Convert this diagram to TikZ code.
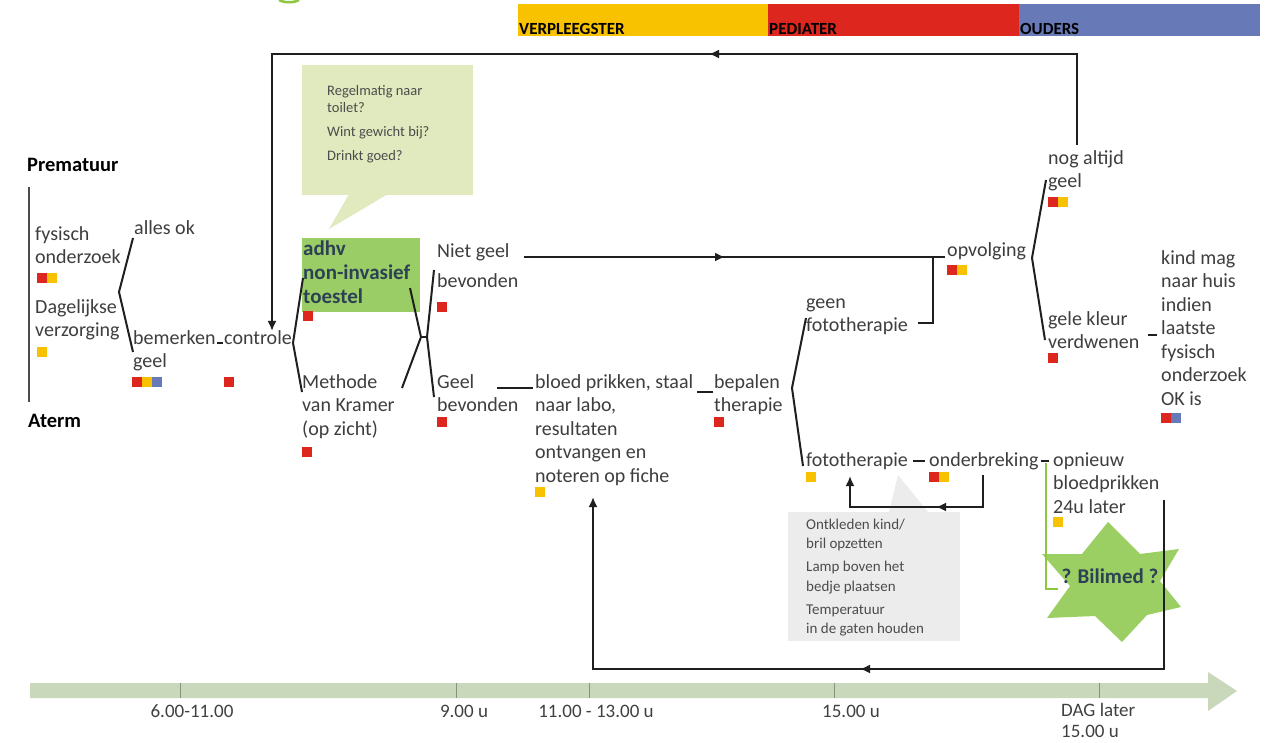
\documentclass[tikz,border=0pt]{standalone}
\usepackage{fontspec}
\setmainfont{Carlito}
\usetikzlibrary{arrows.meta}
\definecolor{cred}{RGB}{220,38,30}
\definecolor{cyel}{RGB}{248,194,0}
\definecolor{cblue}{RGB}{103,122,183}
\definecolor{txt}{RGB}{62,62,62}
\definecolor{slate}{RGB}{45,65,85}
\definecolor{boxgreen}{RGB}{155,205,102}
\definecolor{bubble}{RGB}{224,234,190}
\definecolor{graybox}{RGB}{236,236,236}
\definecolor{stargreen}{RGB}{155,207,100}
\definecolor{brgreen}{RGB}{141,198,63}
\definecolor{tlbar}{RGB}{201,216,186}
\definecolor{tltick}{RGB}{135,148,125}
\newcommand\Tm{\rule{0pt}{16pt}}
\newcommand\Ts{\rule{0pt}{12pt}}
\newcommand\sqrs[3]{\foreach \cc [count=\ii from 0] in {#3} {\fill[\cc] ({#1+10*\ii},#2) rectangle ++(10,10);}}
\tikzset{
  lbl/.style={anchor=north west, yshift=16pt, inner sep=0pt, align=left, text=txt,
    font=\fontsize{20}{23.5}\selectfont},
  boldlbl/.style={anchor=north west, yshift=16pt, inner sep=0pt, align=left, text=slate,
    font=\fontsize{21}{24}\selectfont\bfseries},
  small/.style={anchor=north west, yshift=12pt, inner sep=0pt, align=left, text=black!70},
  title/.style={anchor=base west, inner sep=0pt, text=black, font=\fontsize{20.5}{24}\selectfont\bfseries},
  barlbl/.style={anchor=base west, inner sep=0pt, text=black, font=\fontsize{17}{17}\selectfont\bfseries},
  tllbl/.style={anchor=base, inner sep=0pt, text=black!75, font=\fontsize{19}{21.5}\selectfont},
  conn/.style={line width=2pt, black!88},
  arr/.style={-{Latex[length=10pt,width=9pt]}},
}
\begin{document}
\begin{tikzpicture}[x=1pt,y=-1pt]
\useasboundingbox (0,0) rectangle (1277,743);
\fill[white] (0,0) rectangle (1277,743);

% top role bars
\fill[cyel] (518,4) rectangle (768,36);
\fill[cred] (768,4) rectangle (1019,36);
\fill[cblue] (1019,4) rectangle (1260,36);
\node[barlbl] (verpl) at (519,35) {VERPLEEGSTER};
\node[barlbl] (ped) at (769,35) {PEDIATER};
\node[barlbl] (oud) at (1020,35) {OUDERS};
\draw[brgreen, line width=2.5pt] (279,0) .. controls (284,3) and (294,3) .. (299,0);

% left axis
\node[title] (prem) at (27,172) {Prematuur};
\node[title] (aterm) at (28,427) {Aterm};
\coordinate (axT) at (29,187);
\coordinate (axB) at (29,402);
\draw[line width=2pt, black!70] (axT) -- (axB);

% speech bubble
\fill[bubble] (302,65) rectangle (473,195);
\fill[bubble] (349,194) -- (329,229) -- (388,194) -- cycle;
\node[small, font=\fontsize{14.5}{17}\selectfont] (bub) at (327,95)
  {\Ts Regelmatig naar\\toilet?\\[7pt]Wint gewicht bij?\\[7pt]Drinkt goed?};

% grey note
\fill[graybox] (788,512) rectangle (960,641);
\fill[graybox] (889,512) -- (898,475) -- (928,512) -- cycle;
\node[small, font=\fontsize{15}{19.5}\selectfont] (tips) at (806,529)
  {\Ts Ontkleden kind/\\bril opzetten\\[3.5pt]Lamp boven het\\bedje plaatsen\\[3.5pt]Temperatuur\\in de gaten houden};

% star
\fill[stargreen] (1108,522) -- (1140,554) -- (1179,549) -- (1160,581) -- (1181,607) -- (1147,615)
  -- (1122,642) -- (1095,616) -- (1047,618) -- (1070,586) -- (1042,554) -- (1082,554) -- cycle;
\node[font=\fontsize{21}{24}\selectfont\bfseries, text=slate, inner sep=0pt] (bili) at (1110,576) {? Bilimed ?};

% green box
\fill[boxgreen] (302,238) rectangle (420,312);
\node[boldlbl] (adhv) at (303,255) {\Tm adhv\\non-invasief\\toestel};

% labels
\node[lbl] (fys) at (35,240) {\Tm fysisch\\onderzoek};
\node[lbl] (dag) at (35,313) {\Tm Dagelijkse\\verzorging};
\node[lbl] (alles) at (134,234) {\Tm alles ok};
\node[lbl] (bem) at (133,344) {\Tm bemerken\\geel};
\node[lbl] (contr) at (224,344) {\Tm controle};
\node[lbl] (meth) at (302,388) {\Tm Methode\\van Kramer\\(op zicht)};
\node[lbl] (niet) at (437,257) {\Tm Niet geel\\[6.5pt]bevonden};
\node[lbl] (geel) at (437,388) {\Tm Geel\\bevonden};
\node[lbl] (bloed) at (535,388) {\Tm bloed prikken, staal\\naar labo,\\resultaten\\ontvangen en\\noteren op fiche};
\node[lbl] (bep) at (714,388) {\Tm bepalen\\therapie};
\node[lbl] (geen) at (806,308) {\Tm geen\\fototherapie};
\node[lbl] (foto) at (806,466) {\Tm fototherapie};
\node[lbl] (onder) at (929,466) {\Tm onderbreking};
\node[lbl] (opv) at (947,256) {\Tm opvolging};
\node[lbl] (nog) at (1048,164) {\Tm nog altijd\\geel};
\node[lbl] (gele) at (1048,325) {\Tm gele kleur\\verdwenen};
\node[lbl] (kind) at (1161,264) {\Tm kind mag\\naar huis\\indien\\laatste\\fysisch\\onderzoek\\OK is};
\node[lbl] (opn) at (1053,466) {\Tm opnieuw\\bloedprikken\\24u later};

% role squares
\sqrs{37}{273}{cred,cyel}
\sqrs{37}{347}{cyel}
\sqrs{132}{377}{cred,cyel,cblue}
\sqrs{224}{377}{cred}
\sqrs{303}{311}{cred}
\sqrs{302}{447}{cred}
\sqrs{437}{302}{cred}
\sqrs{437}{417}{cred}
\sqrs{535}{487}{cyel}
\sqrs{714}{417}{cred}
\sqrs{947}{265}{cred,cyel}
\sqrs{1048}{197}{cred,cyel}
\sqrs{1048}{353}{cred}
\sqrs{1161}{413}{cred,cblue}
\sqrs{806}{472}{cyel}
\sqrs{929}{472}{cred,cyel}
\sqrs{1053}{517}{cyel}

% brackets
\coordinate (b1t) at (133,238); \coordinate (b1v) at (119,292); \coordinate (b1b) at (133,352);
\draw[conn] (b1t) -- (b1v) -- (b1b);
\coordinate (b2t) at (303,278); \coordinate (b2v) at (293,343); \coordinate (b2b) at (302,392);
\draw[conn] (b2t) -- (b2v) -- (b2b);
\coordinate (b3lt) at (410,288); \coordinate (b3lv) at (421,337); \coordinate (b3lb) at (402,388);
\coordinate (b3rt) at (434,270); \coordinate (b3rv) at (427,337); \coordinate (b3rb) at (434,397);
\draw[conn] (b3lt) -- (b3lv) -- (b3lb);
\draw[conn] (b3lv) -- (b3rv);
\draw[conn] (b3rt) -- (b3rv) -- (b3rb);
\coordinate (b4t) at (806,318); \coordinate (b4v) at (792,388); \coordinate (b4b) at (803,466);
\draw[conn] (b4t) -- (b4v) -- (b4b);
\coordinate (b5t) at (1046,180); \coordinate (b5v) at (1032,258); \coordinate (b5b) at (1045,340);
\draw[conn] (b5t) -- (b5v) -- (b5b);

% short links
\coordinate (d1a) at (217,343); \coordinate (d1b) at (223,343);
\draw[conn] (d1a) -- (d1b);
\coordinate (g1) at (497,388); \coordinate (g2) at (533,388);
\draw[conn] (g1) -- (g2);
\coordinate (s1) at (697,392); \coordinate (s2) at (713,392);
\draw[conn] (s1) -- (s2);
\coordinate (f1) at (913,461); \coordinate (f2) at (925,461);
\draw[conn] (f1) -- (f2);
\coordinate (o1) at (1041,461); \coordinate (o2) at (1049,461);
\draw[conn] (o1) -- (o2);
\coordinate (k1) at (1148,335); \coordinate (k2) at (1157,335);
\draw[conn] (k1) -- (k2);

% niet geel -> opvolging
\coordinate (n1) at (524,257); \coordinate (nmid) at (725,257); \coordinate (n2) at (945,257);
\draw[conn] (n1) -- (n2);
\draw[conn, arr] (n1) -- (nmid);
\coordinate (gf1) at (918,323); \coordinate (gf2) at (933,323); \coordinate (gf3) at (933,257);
\draw[conn] (gf1) -- (gf2) -- (gf3);

% top loop
\coordinate (nogtop) at (1077,145); \coordinate (tr) at (1077,54); \coordinate (tmid) at (709,54);
\coordinate (tl) at (272,54); \coordinate (ctop) at (272,331);
\draw[conn, arr] (nogtop) -- (tr) -- (tl) -- (ctop);
\draw[conn, arr] (tr) -- (tmid);

% onderbreking loop
\coordinate (u1) at (983,475); \coordinate (u2) at (983,507); \coordinate (umid) at (936,507);
\coordinate (u3) at (850,507); \coordinate (u4) at (850,476);
\draw[conn, arr] (u1) -- (u2) -- (u3) -- (u4);
\draw[conn, arr] (u2) -- (umid);

% bottom loop
\coordinate (r1) at (1164,500); \coordinate (r2) at (1164,669); \coordinate (rmid) at (860,669);
\coordinate (r3) at (593,669); \coordinate (r4) at (593,497);
\draw[conn, arr] (r1) -- (r2) -- (r3) -- (r4);
\draw[conn, arr] (r2) -- (rmid);

% green bracket
\coordinate (gb1) at (1046,463); \coordinate (gb2) at (1046,589); \coordinate (gb3) at (1058,589);
\draw[brgreen, line width=2.5pt] (gb1) -- (gb2) -- (gb3);

% timeline
\fill[tlbar] (30,683) -- (1208,683) -- (1208,672) -- (1237,691) -- (1208,711) -- (1208,698) -- (30,698) -- cycle;
\foreach \tx in {180,456,589,834,1099} {\draw[tltick, line width=0.8pt] (\tx,683) -- (\tx,698);}
\node[tllbl] (t1) at (192,717) {6.00-11.00};
\node[tllbl] (t2) at (464,717) {9.00 u};
\node[tllbl] (t3) at (596,717) {11.00 - 13.00 u};
\node[tllbl] (t4) at (851,717) {15.00 u};
\node[tllbl, anchor=north west, yshift=16pt, align=left] (t5) at (1061,716) {\Tm DAG later\\15.00 u};
\end{tikzpicture}
\end{document}
